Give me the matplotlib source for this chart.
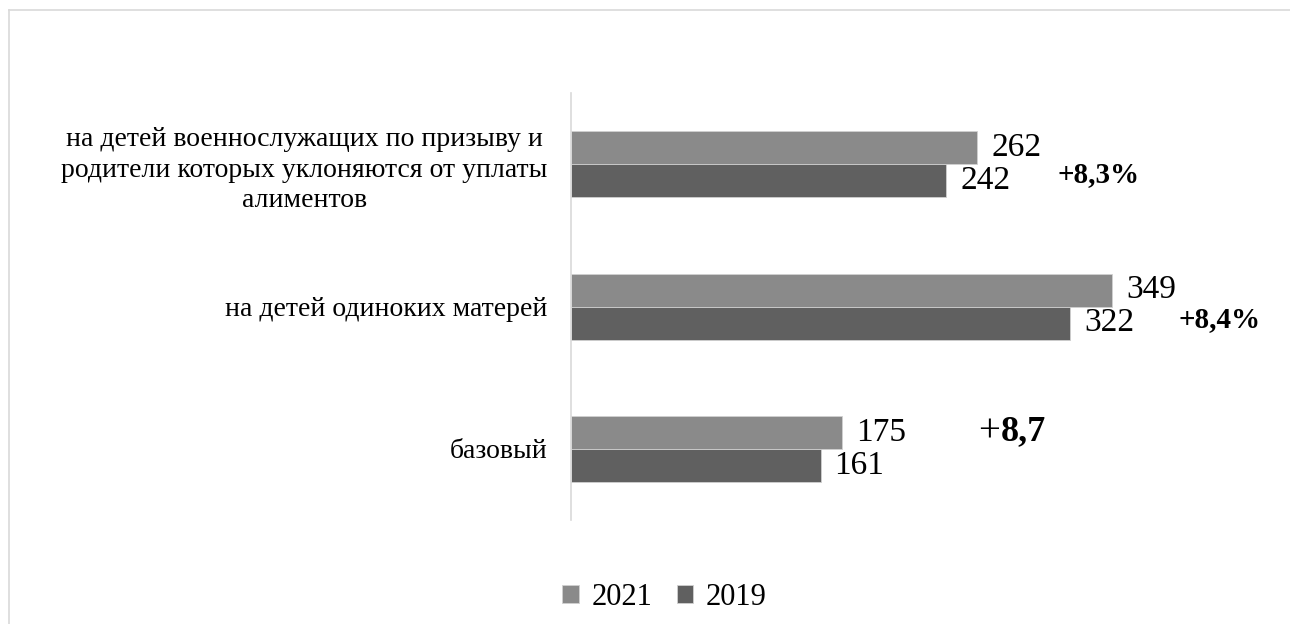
import matplotlib
matplotlib.use("Agg")
import matplotlib.pyplot as plt
import numpy as np

# Chart data
categories = ["базовый",
              "на детей одиноких матерей",
              "на детей военнослужащих по призыву и\nродители которых уклоняются от уплаты\nалиментов"]
values_2021 = [175, 349, 262]
values_2019 = [161, 322, 242]
growth_labels = ["+8,7", "+8,4%", "+8,3%"]

plt.rcParams['font.family'] = ['Liberation Serif', 'DejaVu Serif']

fig = plt.figure(figsize=(12.9, 6.24), dpi=100)
ax = fig.add_axes([0.4426, 0.1667, 0.4807, 0.684])

y = np.arange(len(categories))
h = 0.232
ax.barh(y + h / 2, values_2021, height=h, color="#8a8a8a", edgecolor="#d0d0d0", linewidth=0.6, label="2021")
ax.barh(y - h / 2, values_2019, height=h, color="#606060", edgecolor="#d0d0d0", linewidth=0.6, label="2019")

# Value labels next to the bars
for i in range(len(categories)):
    ax.text(values_2021[i] + 9, y[i] + h / 2, str(values_2021[i]), va="center", ha="left", fontsize=24)
    ax.text(values_2019[i] + 9, y[i] - h / 2, str(values_2019[i]), va="center", ha="left", fontsize=24)

# Growth annotations
ax.text(340.6, 1.925, growth_labels[2], ha="center", va="center", fontsize=21, fontweight="bold")
ax.text(418.7, 0.91, growth_labels[1], ha="center", va="center", fontsize=21, fontweight="bold", clip_on=False)
# the base one has a regular plus sign and a bold number
ax.text(277, 0.12, growth_labels[0][0], ha="right", va="center", fontsize=28)
ax.text(277, 0.12, growth_labels[0][1:], ha="left", va="center", fontsize=26, fontweight="bold")

ax.set_xlim(0, 400)
ax.set_ylim(-0.5, 2.5)
ax.set_yticks(y)
ax.set_yticklabels(categories, fontsize=20, linespacing=1.3, multialignment="center")
ax.set_xticks([])
ax.tick_params(axis="y", length=0, pad=17)
for side in ["top", "right", "bottom"]:
    ax.spines[side].set_visible(False)
ax.spines["left"].set_color("#d9d9d9")
ax.spines["left"].set_linewidth(1.2)

leg = fig.legend(loc="center", bbox_to_anchor=(0.515, 0.043), ncol=2, frameon=False, fontsize=22,
                 handlelength=0.55, handleheight=0.55, handletextpad=0.4, columnspacing=0.8)

# Light frame around the chart
fig.add_artist(plt.Line2D([0.007, 1.0], [0.984, 0.984], color="#d9d9d9", linewidth=1.2))
fig.add_artist(plt.Line2D([0.007, 0.007], [0.0, 0.984], color="#d9d9d9", linewidth=1.2))

fig.savefig("out.png", dpi=100)
